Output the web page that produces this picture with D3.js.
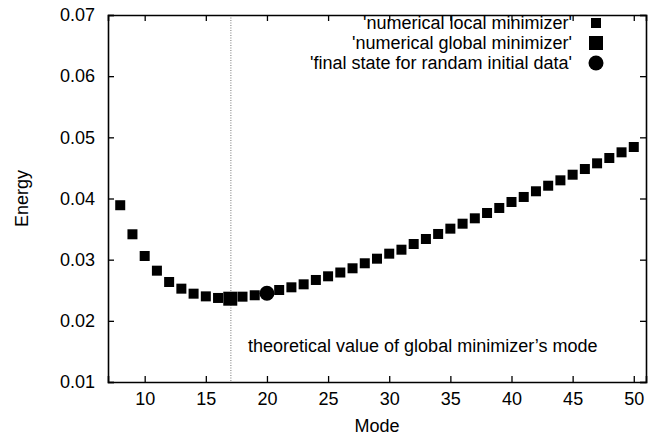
<!DOCTYPE html>
<html><head><meta charset="utf-8">
<script src="https://cdn.jsdelivr.net/npm/d3@7"></script>
<style>body{margin:0;background:#fff}svg{font-family:"Liberation Sans",Arial,sans-serif}</style>
</head><body><svg id="c" width="655" height="435"></svg>
<script>
const modes = [8,9,10,11,12,13,14,15,16,17,18,19,20,21,22,23,24,25,26,27,28,29,30,31,32,33,34,35,36,37,38,39,40,41,42,43,44,45,46,47,48,49,50];
const localEnergy = [0.0389,0.03415,0.0306,0.0282,0.02635,0.02526,0.02444,0.0240,0.02374,0.02362,0.02395,0.02418,0.0244,0.02504,0.02548,0.02597,0.02668,0.02728,0.0279,0.02859,0.02941,0.03016,0.03098,0.03163,0.03256,0.03338,0.0342,0.03507,0.03588,0.03676,0.03763,0.03845,0.03943,0.04025,0.04118,0.04209,0.04297,0.04389,0.04482,0.04575,0.04662,0.04755,0.04842];
const globalMode = [17], globalEnergy = [0.02362];
const finalMode = [20], finalEnergy = [0.0245];
const theoreticalMode = 17.05;
const xTicks = [10,15,20,25,30,35,40,45,50];
const yTicks = [0.01,0.02,0.03,0.04,0.05,0.06,0.07];
const legendLabels = ["'numerical local minimizer'","'numerical global minimizer'","'final state for randam initial data'"];

const svg = d3.select("#c");
const L=108, R=646, T=15, B=382;
const x = d3.scaleLinear().domain([7,51]).range([L,R]);
const y = d3.scaleLinear().domain([0.01,0.07]).range([B,T]);
const fs = 18;

// vertical dotted line
svg.append("line").attr("x1",x(theoreticalMode)).attr("x2",x(theoreticalMode)).attr("y1",T).attr("y2",B)
  .attr("stroke","#777").attr("stroke-width",1).attr("stroke-dasharray","1,1.5");

// axes
const gB = svg.append("g").attr("transform",`translate(0,${B})`).call(d3.axisBottom(x).tickValues(xTicks).tickSize(-6).tickPadding(10).tickFormat(d3.format("d")));
const gT = svg.append("g").attr("transform",`translate(0,${T})`).call(d3.axisTop(x).tickValues(xTicks).tickSize(-6).tickFormat(""));
const gL = svg.append("g").attr("transform",`translate(${L},0)`).call(d3.axisLeft(y).tickValues(yTicks).tickSize(-6).tickPadding(13).tickFormat(d3.format(".2f")));
const gR = svg.append("g").attr("transform",`translate(${R},0)`).call(d3.axisRight(y).tickValues(yTicks).tickSize(-6).tickFormat(""));
[gB,gT,gL,gR].forEach(g=>{
  g.select(".domain").attr("stroke","#000").attr("stroke-width",1.6);
  g.selectAll(".tick line").attr("stroke","#000").attr("stroke-width",1.3);
  g.selectAll("text").attr("font-size",fs).attr("fill","#000").attr("font-family","Liberation Sans, Arial, sans-serif");
});
gB.selectAll(".tick text").attr("dy","0.71em");

// axis titles
svg.append("text").attr("x",(L+R)/2).attr("y",432).attr("text-anchor","middle").attr("font-size",fs).text("Mode");
svg.append("text").attr("transform",`translate(28,${(T+B)/2}) rotate(-90)`).attr("text-anchor","middle").attr("font-size",fs).text("Energy");

// data
const s1=10, s2=14, r3=7.5;
svg.append("g").selectAll("rect").data(modes.map((m,i)=>[m,localEnergy[i]])).join("rect")
  .attr("x",d=>x(d[0])-s1/2).attr("y",d=>y(d[1])-s1/2).attr("width",s1).attr("height",s1).attr("fill","#000");
svg.append("g").selectAll("rect").data(globalMode.map((m,i)=>[m,globalEnergy[i]])).join("rect")
  .attr("x",d=>x(d[0])-s2/2).attr("y",d=>y(d[1])-s2/2).attr("width",s2).attr("height",s2).attr("fill","#000");
svg.append("g").selectAll("circle").data(finalMode.map((m,i)=>[m,finalEnergy[i]])).join("circle")
  .attr("cx",d=>x(d[0])).attr("cy",d=>y(d[1])).attr("r",r3).attr("fill","#000");

// annotation
svg.append("text").attr("x",248).attr("y",352).attr("font-size",fs).text("theoretical value of global minimizer\u2019s mode");

// legend
const lx=572, mx=596, ly=[23,43,63];
legendLabels.forEach((t,i)=>{
  svg.append("text").attr("x",lx).attr("y",ly[i]).attr("dy","0.35em").attr("text-anchor","end").attr("font-size",fs).text(t);
});
svg.append("rect").attr("x",mx-s1/2).attr("y",ly[0]-s1/2).attr("width",s1).attr("height",s1);
svg.append("rect").attr("x",mx-s2/2).attr("y",ly[1]-s2/2).attr("width",s2).attr("height",s2);
svg.append("circle").attr("cx",mx).attr("cy",ly[2]).attr("r",r3);
</script></body></html>
